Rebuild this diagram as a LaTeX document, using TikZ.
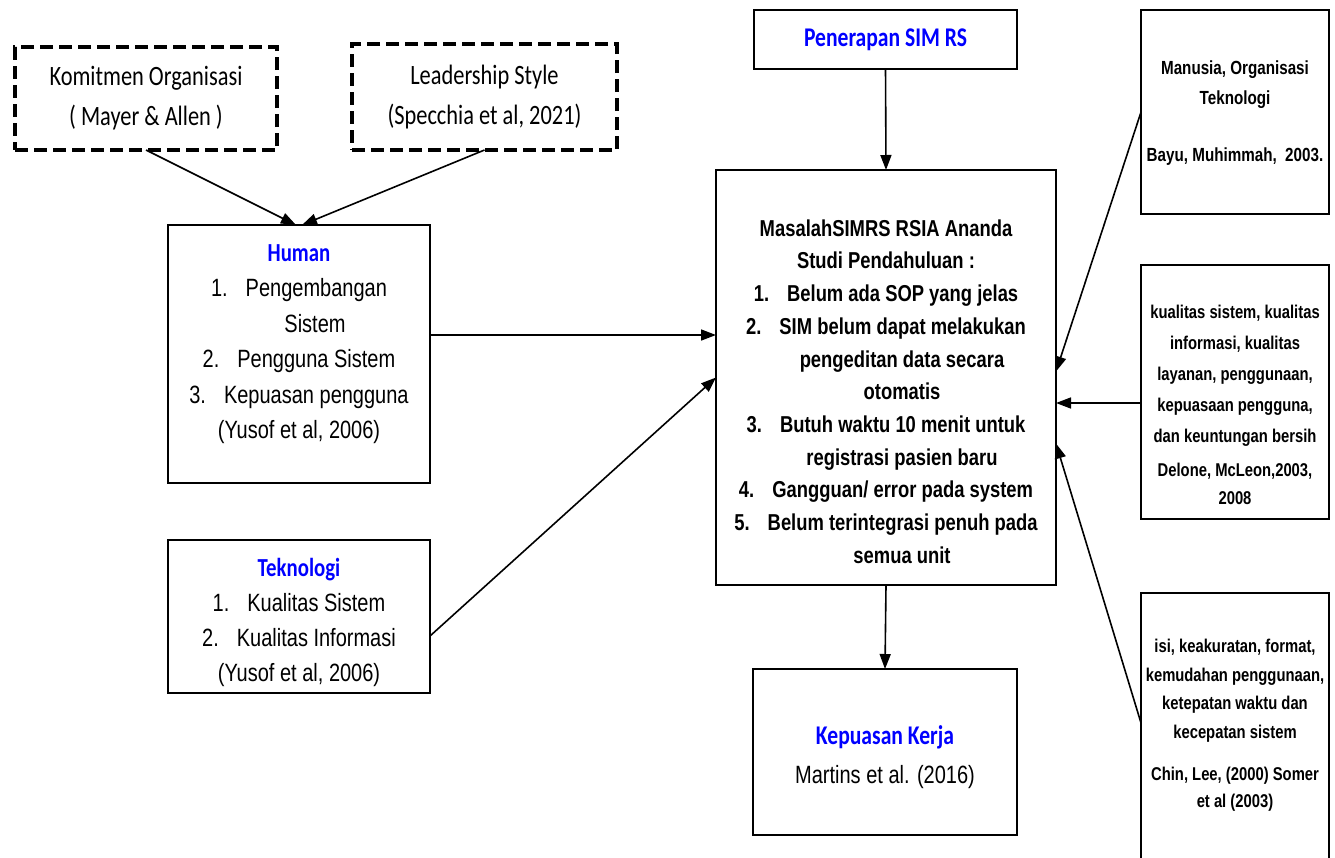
\documentclass[tikz,border=0pt]{standalone}
\usepackage{fontspec}
\usetikzlibrary{arrows.meta}
\setmainfont{Liberation Sans}[FakeStretch=0.8]
\newfontfamily\calfont{Carlito}[FakeStretch=0.8]
\definecolor{tblue}{RGB}{0,0,255}
\begin{document}
\begin{tikzpicture}[x=1pt,y=-1pt,
  box/.style={draw, line width=1.8pt, inner sep=0pt, outer sep=0pt, align=center},
  dbox/.style={draw, line width=4.6pt, dash pattern=on 13pt off 6pt, inner sep=0pt, outer sep=0pt, align=center},
  txt/.style={align=center, inner sep=0pt},
  arr/.style={line width=1.6pt, -{Triangle[length=15pt,width=11pt]}},
  ttl/.style={font=\fontsize{27}{30}\calfont\bfseries, text=tblue}]
\path[use as bounding box] (0,0) rectangle (1335,857);
\clip (0,0) rectangle (1335,857);

% dashed top boxes
\node[dbox, minimum width=262pt, minimum height=103pt, font=\fontsize{28}{40}\calfont] (kom) at (146,98.5)
  {Komitmen Organisasi\\( Mayer \& Allen )};
\node[dbox, minimum width=265pt, minimum height=106pt, font=\fontsize{28}{40}\calfont] (lead) at (484.5,97)
  {Leadership Style\\(Specchia et al, 2021)};

% Human
\node[box, minimum width=262pt, minimum height=258pt] (human) at (299,354) {};
\node[txt, font=\fontsize{25}{35.5}\selectfont] (humant) at (299,344)
  {{\fontsize{26}{35.5}\calfont\bfseries\color{tblue}Human}\\
   1.\hspace{18pt}Pengembangan\\
   \hspace*{32pt}Sistem\\
   2.\hspace{18pt}Pengguna Sistem\\
   3.\hspace{18pt}Kepuasan pengguna\\
   (Yusof et al, 2006)};

% Teknologi
\node[box, minimum width=262pt, minimum height=153pt] (tek) at (299,616.5) {};
\node[txt, font=\fontsize{25}{35}\selectfont] (tekt) at (299,622.5)
  {{\fontsize{26}{35}\calfont\bfseries\color{tblue}Teknologi}\\
   1.\hspace{18pt}Kualitas Sistem\\
   2.\hspace{18pt}Kualitas Informasi\\
   (Yusof et al, 2006)};

% Penerapan
\node[box, minimum width=263pt, minimum height=59pt, ttl] (pen) at (885.5,39.5) {Penerapan SIM RS};

% Masalah
\node[box, minimum width=340pt, minimum height=415pt] (mas) at (886,377.5) {};
\node[txt, font=\fontsize{23}{32.7}\selectfont\bfseries] (mast) at (886,391.5)
  {MasalahSIMRS RSIA Ananda\\
   Studi Pendahuluan :\\
   1.\hspace{18pt}Belum ada SOP yang jelas\\
   2.\hspace{18pt}SIM belum dapat melakukan\\
   \hspace*{32pt}pengeditan data secara\\
   \hspace*{32pt}otomatis\\
   3.\hspace{18pt}Butuh waktu 10 menit untuk\\
   \hspace*{32pt}registrasi pasien baru\\
   4.\hspace{18pt}Gangguan/ error pada system\\
   5.\hspace{18pt}Belum terintegrasi penuh pada\\
   \hspace*{32pt}semua unit};

% Kepuasan Kerja
\node[box, minimum width=264pt, minimum height=166pt] (kep) at (885,752) {};
\node[txt, font=\fontsize{25}{39}\selectfont] (kept) at (885,757.5)
  {{\fontsize{27}{39}\calfont\bfseries\color{tblue}Kepuasan Kerja}\\
   Martins et al. (2016)};

% right boxes
\node[box, minimum width=188pt, minimum height=204pt] (r1) at (1235,112) {};
\node[txt, font=\fontsize{19}{30}\selectfont\bfseries] (r1t) at (1235,113.5)
  {Manusia, Organisasi\\ Teknologi\\[27pt] Bayu, Muhimmah,\ \ 2003.};

\node[box, minimum width=188pt, minimum height=254pt] (r2) at (1235,392) {};
\node[txt, font=\fontsize{18.5}{31}\selectfont\bfseries] (r2t) at (1235,405)
  {kualitas sistem, kualitas\\ informasi, kualitas\\ layanan, penggunaan,\\ kepuasaan pengguna,\\ dan keuntungan bersih\\[3pt] Delone, McLeon,2003,\\[-3pt] 2008};

\node[box, minimum width=188pt, minimum height=277pt] (r3) at (1235,731.5) {};
\node[txt, font=\fontsize{18.5}{28.5}\selectfont\bfseries] (r3t) at (1235,725)
  {isi, keakuratan, format,\\ kemudahan penggunaan,\\ ketepatan waktu dan\\ kecepatan sistem\\[13.5pt] Chin, Lee, (2000) Somer\\[-1.5pt] et al (2003)};

% connectors
\draw[arr] (kom.south) -- ([xshift=-3pt]human.north);
\draw[arr] (lead.south) -- ([xshift=3pt]human.north);
\coordinate (h1) at ([yshift=19pt]human.east);
\draw[arr] (h1) -- (h1 -| mas.west);
\draw[arr] ([yshift=-19.5pt]tek.east) -- (mas.west);
\draw[arr] (pen.south) -- (mas.north);
\draw[arr] (mas.south) -- (kep.north);
\draw[arr] (r1.west) -- ([yshift=6pt]mas.east);
\coordinate (r2a) at ([yshift=-25.5pt]mas.east);
\draw[arr] (r2a -| r2.west) -- (r2a);
\draw[arr] ([yshift=8.5pt]r3.west) -- ([yshift=-66pt]mas.east);
\end{tikzpicture}
\end{document}
